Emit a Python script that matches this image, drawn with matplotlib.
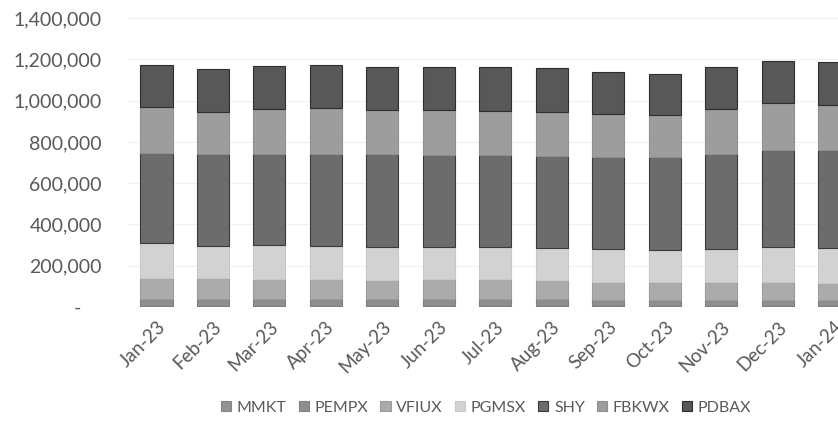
import numpy as np
import matplotlib
matplotlib.use("Agg")
import matplotlib.pyplot as plt
from matplotlib.ticker import FuncFormatter

months = ["Jan-23", "Feb-23", "Mar-23", "Apr-23", "May-23", "Jun-23", "Jul-23",
          "Aug-23", "Sep-23", "Oct-23", "Nov-23", "Dec-23", "Jan-24"]

# values (approximate)
mmkt = [5000, 5000, 5000, 5000, 5000, 5000, 5000, 5000, 5000, 5000, 5000, 5000, 5000]
pempx = [35000, 35000, 33000, 33000, 32000, 33000, 33000, 32000, 30000, 30000, 30000, 30000, 29000]
vfiux = [100000, 100000, 98000, 98000, 94000, 98000, 98000, 94000, 86000, 86000, 86000, 86000, 82000]
pgmsx = [170000, 155000, 164000, 159000, 160000, 155000, 155000, 155000, 160000, 155000, 160000, 170000, 170000]
shy = [436000, 446000, 441000, 446000, 450000, 445000, 445000, 445000, 445000, 450000, 460000, 469000, 474000]
fbkwx = [223000, 203000, 218000, 223000, 213000, 218000, 213000, 213000, 209000, 204000, 218000, 228000, 218000]
pdbax = [203000, 209000, 208000, 208000, 208000, 208000, 213000, 213000, 203000, 198000, 203000, 203000, 208000]

names = ["MMKT", "PEMPX", "VFIUX", "PGMSX", "SHY", "FBKWX", "PDBAX"]
series = [mmkt, pempx, vfiux, pgmsx, shy, fbkwx, pdbax]
colors = ["#939393", "#8e8e8e", "#ababab", "#d2d2d2", "#6c6c6c", "#9d9d9d", "#585858"]
edges = ["#858585", "#808080", "#9c9c9c", "#c8c8c8", "#3a3a3a", "#8f8f8f", "#2e2e2e"]

plt.rcParams["font.family"] = ["Lato", "DejaVu Sans"]
txt = "#595959"

fig = plt.figure(figsize=(8.38, 4.42), dpi=100)
ax = fig.add_axes([0.153, 0.3054, 0.876, 0.6536])

x = np.arange(len(months))
bottom = np.zeros(len(months))
handles = []
for name, vals, c, e in zip(names, series, colors, edges):
    b = ax.bar(x, vals, 0.57, bottom=bottom, color=c, edgecolor=e, linewidth=0.8,
               label=name, zorder=3)
    bottom += np.array(vals)
    handles.append(b)

ax.set_xlim(-0.5, len(months) - 0.5)
ax.set_ylim(0, 1400000)
ax.set_yticks(np.arange(0, 1400001, 200000))
ax.yaxis.set_major_formatter(FuncFormatter(lambda v, p: "-    " if v == 0 else f"{int(v):,}"))
ax.grid(axis="y", color="#f0f0f0", linewidth=0.8, zorder=0)
for s in ax.spines.values():
    s.set_visible(False)
ax.tick_params(axis="y", length=0, colors=txt, labelsize=14, pad=19)
ax.set_xticks(x)
ax.set_xticklabels(months, rotation=45, ha="right", rotation_mode="anchor")
ax.tick_params(axis="x", length=0, colors=txt, labelsize=13.5, pad=8)

fig.legend(handles=handles, labels=names, loc="center", bbox_to_anchor=(0.58, 0.078),
           ncol=7, frameon=False, fontsize=11.5, labelcolor=txt,
           handlelength=0.65, handleheight=0.65, handletextpad=0.35, columnspacing=0.75)

fig.savefig("out.png", dpi=100)
